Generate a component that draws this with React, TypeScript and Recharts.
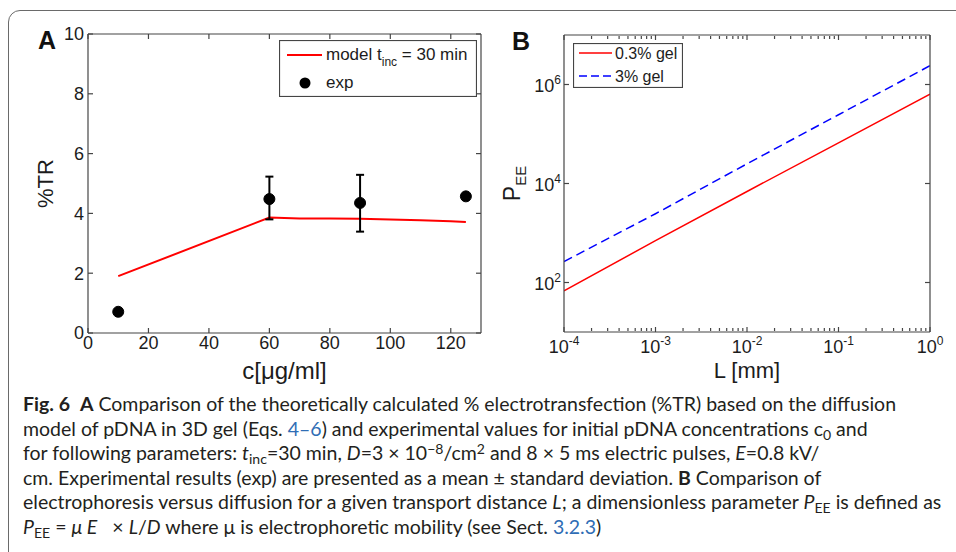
import React from "react";
import { ComposedChart, LineChart, Line, XAxis, YAxis, ErrorBar, Legend } from "recharts";

// Panel A: %TR vs initial pDNA concentration
const concModel = [10, 60, 70, 80, 90, 100, 110, 120, 125];
const trModel = [1.9, 3.86, 3.83, 3.83, 3.82, 3.8, 3.77, 3.74, 3.71];
const concExp = [10, 60, 90, 125];
const trExp = [0.71, 4.48, 4.35, 4.57];
const trExpErr: ([number, number] | null)[] = [null, [0.68, 0.75], [0.96, 0.94], null];
const xTicksA = [0, 20, 40, 60, 80, 100, 120];
const yTicksA = [0, 2, 4, 6, 8, 10];

// Panel B: P_EE vs transport distance L (log-log)
const lengthMm = [1e-4, 1e-3, 1e-2, 1e-1, 1];
const pee03 = [68, 700, 6900, 66000, 640000];
const pee3 = [265, 2450, 25000, 245000, 2400000];
const xTicksB = [1e-4, 1e-3, 1e-2, 1e-1, 1];
const xTickExpB = ["-4", "-3", "-2", "-1", "0"];
const yTicksB = [1e2, 1e4, 1e6];
const yTickExpB = ["2", "4", "6"];
const minorMult = [2, 3, 4, 5, 6, 7, 8, 9];
const minorTicksB = xTicksB.slice(0, 4).flatMap((d) => minorMult.map((m) => m * d));

const rowsA = concModel.map((c, i) => {
  const j = concExp.indexOf(c);
  return {
    c,
    model: trModel[i],
    exp: j >= 0 ? trExp[j] : null,
    err: j >= 0 ? trExpErr[j] : null,
  };
});

const rowsB = lengthMm.map((L, i) => ({ L, gel03: pee03[i], gel3: pee3[i] }));

const FONT = "'Liberation Sans', Arial, Helvetica, sans-serif";
const CAP_FONT = "Lato, 'Open Sans', sans-serif";
const AXIS = "#454545";
const INK = "#1c1c1c";
const LINK = "#2f6db5";

const NoLabel = () => <g />;

// frame axes: only the box line and inward tick marks, no labels
const boxAxis = {
  tick: <NoLabel />,
  stroke: AXIS,
  strokeWidth: 1.2,
  tickSize: 5,
  allowDataOverflow: true,
  interval: 0 as const,
};

// invisible series so the frame axes get a scale
const ghost = {
  stroke: "none",
  dot: false as const,
  activeDot: false as const,
  legendType: "none" as const,
  isAnimationActive: false,
};

function LegendA() {
  return (
    <svg width={198} height={57} style={{ display: "block" }}>
      <rect x={0.5} y={0.5} width={197} height={56} fill="#fff" stroke={AXIS} strokeWidth={1.2} />
      <line x1={8} x2={43} y1={15} y2={15} stroke="#ff0000" strokeWidth={2} />
      <text x={47} y={20} fontSize={17} fill={INK} fontFamily={FONT}>
        model t<tspan fontSize={12} dy={6}>inc</tspan>
        <tspan dy={-6}> = 30 min</tspan>
      </text>
      <circle cx={26} cy={43} r={5.5} fill="#000" />
      <text x={47} y={48} fontSize={17} fill={INK} fontFamily={FONT}>exp</text>
    </svg>
  );
}

function LegendB() {
  return (
    <svg width={110} height={45} style={{ display: "block" }}>
      <rect x={0.5} y={0.5} width={109} height={44} fill="#fff" stroke={AXIS} strokeWidth={1.2} />
      <line x1={6} x2={39} y1={10} y2={10} stroke="#ff0000" strokeWidth={1.5} />
      <text x={42} y={16} fontSize={16} fill={INK} fontFamily={FONT}>0.3% gel</text>
      <line x1={6} x2={39} y1={33} y2={33} stroke="#0000ff" strokeWidth={1.5} strokeDasharray="8 4" />
      <text x={42} y={39} fontSize={16} fill={INK} fontFamily={FONT}>3% gel</text>
    </svg>
  );
}

const vTitle = (main: string, sub: string | null, dx: number, size: number) => (props: any) => {
  const vb = props.viewBox || {};
  const cx = vb.x + dx;
  const cy = vb.y + vb.height / 2;
  return (
    <text
      x={cx}
      y={cy}
      transform={`rotate(-90 ${cx} ${cy})`}
      textAnchor="middle"
      fontSize={size}
      fill={INK}
      fontFamily={FONT}
    >
      {main}
      {sub && (
        <tspan fontSize={15} dy={6}>
          {sub}
        </tspan>
      )}
    </text>
  );
};

const PowTickX = (props: any) => {
  const { x, y, index } = props;
  return (
    <text x={x} y={y + 21} textAnchor="middle" fontSize={18} fill={INK} fontFamily={FONT}>
      10
      <tspan fontSize={12} dy={-8}>
        {xTickExpB[index]}
      </tspan>
    </text>
  );
};

const PowTickY = (props: any) => {
  const { x, y, index } = props;
  return (
    <text x={x} y={y + 7} textAnchor="end" fontSize={18} fill={INK} fontFamily={FONT}>
      10
      <tspan fontSize={12} dy={-8}>
        {yTickExpB[index]}
      </tspan>
    </text>
  );
};

function PanelA() {
  return (
    <ComposedChart width={490} height={390} data={rowsA} margin={{ top: 34, right: 9, bottom: 13, left: 40 }}>
      <XAxis
        xAxisId="x"
        dataKey="c"
        type="number"
        domain={[0, 130]}
        ticks={xTicksA}
        interval={0}
        allowDataOverflow
        tickLine={false}
        axisLine={false}
        tickSize={0}
        tickMargin={3}
        height={44}
        tick={{ fontSize: 18, fill: INK, fontFamily: FONT }}
        label={{ value: "c[μg/ml]", position: "insideBottom", offset: -2, fontSize: 24, fill: INK, fontFamily: FONT }}
      />
      <XAxis xAxisId="xb" dataKey="c" type="number" domain={[0, 130]} ticks={xTicksA} orientation="bottom" mirror height={1} {...boxAxis} />
      <XAxis xAxisId="xt" dataKey="c" type="number" domain={[0, 130]} ticks={xTicksA} orientation="top" mirror height={1} {...boxAxis} />
      <YAxis
        yAxisId="y"
        type="number"
        domain={[0, 10]}
        ticks={yTicksA}
        interval={0}
        allowDataOverflow
        tickLine={false}
        axisLine={false}
        tickSize={0}
        tickMargin={4}
        width={48}
        tick={{ fontSize: 18, fill: INK, fontFamily: FONT }}
        label={{ content: vTitle("%TR", null, 13, 22) }}
      />
      <YAxis yAxisId="yl" type="number" domain={[0, 10]} ticks={yTicksA} orientation="left" mirror width={1} {...boxAxis} />
      <YAxis yAxisId="yr" type="number" domain={[0, 10]} ticks={yTicksA} orientation="right" mirror width={1} {...boxAxis} />
      <Line xAxisId="xb" yAxisId="yl" dataKey="model" {...ghost} />
      <Line xAxisId="xt" yAxisId="yr" dataKey="model" {...ghost} />
      <Line
        xAxisId="x"
        yAxisId="y"
        type="linear"
        dataKey="model"
        name="model"
        stroke="#ff0000"
        strokeWidth={2}
        dot={false}
        activeDot={false}
        isAnimationActive={false}
      />
      <Line
        xAxisId="x"
        yAxisId="y"
        type="linear"
        dataKey="exp"
        name="exp"
        stroke="none"
        dot={{ r: 5.5, fill: "#000", stroke: "#000", strokeWidth: 1 }}
        activeDot={false}
        isAnimationActive={false}
      >
        <ErrorBar dataKey="err" width={4} stroke="#000" strokeWidth={2} direction="y" />
      </Line>
      <Legend
        layout="horizontal"
        verticalAlign="middle"
        align="center"
        content={<LegendA />}
        wrapperStyle={{ left: 279, top: 40, width: 198, height: 57 }}
      />
    </ComposedChart>
  );
}

function PanelB() {
  return (
    <LineChart width={466} height={390} data={rowsB} margin={{ top: 35, right: 26, bottom: 14, left: 26 }}>
      <XAxis
        xAxisId="x"
        dataKey="L"
        type="number"
        scale="log"
        domain={[1e-4, 1]}
        ticks={xTicksB}
        interval={0}
        allowDataOverflow
        tickLine={false}
        axisLine={false}
        tickSize={0}
        tickMargin={0}
        height={44}
        tick={<PowTickX />}
        label={{ value: "L [mm]", position: "insideBottom", offset: -2, fontSize: 22, fill: INK, fontFamily: FONT }}
      />
      <XAxis xAxisId="xb" dataKey="L" type="number" scale="log" domain={[1e-4, 1]} ticks={xTicksB} orientation="bottom" mirror height={1} {...boxAxis} />
      <XAxis xAxisId="xt" dataKey="L" type="number" scale="log" domain={[1e-4, 1]} ticks={xTicksB} orientation="top" mirror height={1} {...boxAxis} />
      <XAxis
        xAxisId="xbm"
        dataKey="L"
        type="number"
        scale="log"
        domain={[1e-4, 1]}
        ticks={minorTicksB}
        orientation="bottom"
        mirror
        height={1}
        {...boxAxis}
        axisLine={false}
        tickSize={3}
      />
      <XAxis
        xAxisId="xtm"
        dataKey="L"
        type="number"
        scale="log"
        domain={[1e-4, 1]}
        ticks={minorTicksB}
        orientation="top"
        mirror
        height={1}
        {...boxAxis}
        axisLine={false}
        tickSize={3}
      />
      <YAxis
        yAxisId="y"
        type="number"
        scale="log"
        domain={[10, 1e7]}
        ticks={yTicksB}
        interval={0}
        allowDataOverflow
        tickLine={false}
        axisLine={false}
        tickSize={0}
        tickMargin={3}
        width={48}
        tick={<PowTickY />}
        label={{ content: vTitle("P", "EE", 4, 23) }}
      />
      <YAxis yAxisId="yl" type="number" scale="log" domain={[10, 1e7]} ticks={yTicksB} orientation="left" mirror width={1} {...boxAxis} />
      <YAxis yAxisId="yr" type="number" scale="log" domain={[10, 1e7]} ticks={yTicksB} orientation="right" mirror width={1} {...boxAxis} />
      <Line xAxisId="xb" yAxisId="yl" dataKey="gel03" {...ghost} />
      <Line xAxisId="xt" yAxisId="yr" dataKey="gel03" {...ghost} />
      <Line xAxisId="xbm" yAxisId="yl" dataKey="gel03" {...ghost} />
      <Line xAxisId="xtm" yAxisId="yr" dataKey="gel03" {...ghost} />
      <Line
        xAxisId="x"
        yAxisId="y"
        type="linear"
        dataKey="gel03"
        name="0.3% gel"
        stroke="#ff0000"
        strokeWidth={1.5}
        dot={false}
        activeDot={false}
        isAnimationActive={false}
      />
      <Line
        xAxisId="x"
        yAxisId="y"
        type="linear"
        dataKey="gel3"
        name="3% gel"
        stroke="#0000ff"
        strokeWidth={1.5}
        strokeDasharray="9 5"
        dot={false}
        activeDot={false}
        isAnimationActive={false}
      />
      <Legend
        layout="horizontal"
        verticalAlign="middle"
        align="center"
        content={<LegendB />}
        wrapperStyle={{ left: 83, top: 43, width: 110, height: 45 }}
      />
    </LineChart>
  );
}

const Sub = ({ children }: { children: React.ReactNode }) => (
  <span style={{ fontSize: "0.72em", position: "relative", top: "0.3em", lineHeight: 0 }}>{children}</span>
);
const Sup = ({ children }: { children: React.ReactNode }) => (
  <span style={{ fontSize: "0.72em", position: "relative", top: "-0.45em", lineHeight: 0 }}>{children}</span>
);

export default function App() {
  const letter: React.CSSProperties = {
    position: "absolute",
    fontFamily: FONT,
    fontWeight: 700,
    fontSize: 25,
    color: "#111",
    lineHeight: 1,
  };
  return (
    <div
      style={{
        position: "absolute",
        left: 0,
        top: 0,
        width: 956,
        height: 552,
        overflow: "hidden",
        background: "#fff",
      }}
    >
      <div
        style={{
          position: "absolute",
          left: 8,
          top: 10,
          width: 980,
          height: 580,
          border: "1.5px solid #6a6a6a",
          borderRadius: 12,
          boxSizing: "border-box",
        }}
      />
      <div style={{ position: "absolute", left: 0, top: 0 }}>
        <PanelA />
      </div>
      <div style={{ position: "absolute", left: 490, top: 0 }}>
        <PanelB />
      </div>
      <div style={{ ...letter, left: 38, top: 28 }}>A</div>
      <div style={{ ...letter, left: 512, top: 29 }}>B</div>
      <div
        style={{
          position: "absolute",
          left: 23,
          top: 392,
          fontFamily: CAP_FONT,
          fontSize: 19.5,
          lineHeight: "24.5px",
          color: "#231f20",
          whiteSpace: "nowrap",
        }}
      >
        <div>
          <b>Fig. 6</b>&nbsp; <b>A</b> Comparison of the theoretically calculated % electrotransfection (%TR) based on the diffusion
        </div>
        <div>
          model of pDNA in 3D gel (Eqs. <span style={{ color: LINK }}>4–6</span>) and experimental values for initial pDNA concentrations c<Sub>0</Sub> and
        </div>
        <div>
          for following parameters: <i>t</i>
          <Sub>inc</Sub>=30 min, <i>D</i>=3 × 10<Sup>−8</Sup>/cm<Sup>2</Sup> and 8 × 5 ms electric pulses, <i>E</i>=0.8 kV/
        </div>
        <div>
          cm. Experimental results (exp) are presented as a mean ± standard deviation. <b>B</b> Comparison of
        </div>
        <div>
          electrophoresis versus diffusion for a given transport distance <i>L</i>; a dimensionless parameter <i>P</i>
          <Sub>EE</Sub> is defined as
        </div>
        <div>
          <i>P</i>
          <Sub>EE</Sub> = <i>μ E</i>&nbsp;&nbsp; × <i>L</i>/<i>D</i> where μ is electrophoretic mobility (see Sect.{" "}
          <span style={{ color: LINK }}>3.2.3</span>)
        </div>
      </div>
    </div>
  );
}
